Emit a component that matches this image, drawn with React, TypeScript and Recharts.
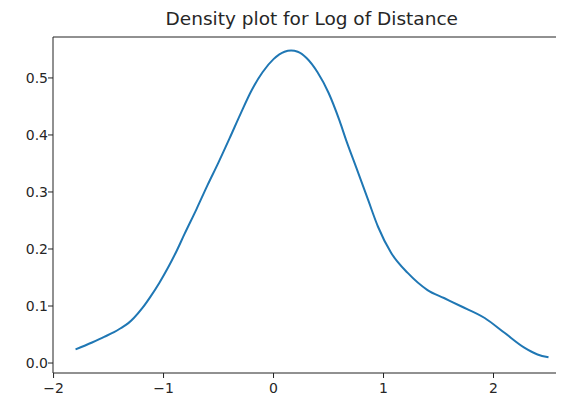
import { LineChart, Line, XAxis, YAxis, ReferenceLine } from 'recharts';

// KDE of log(distance)
const logDistance = [
  -1.8, -1.65, -1.54, -1.45, -1.39, -1.32, -1.27, -1.19, -1.12, -1.04, -0.96, -0.88, -0.81,
  -0.7, -0.6, -0.5, -0.4, -0.3, -0.2, -0.1, 0.0, 0.1, 0.16, 0.22, 0.3, 0.4, 0.5, 0.6, 0.66,
  0.75, 0.86, 0.95, 1.07, 1.22, 1.4, 1.55, 1.7, 1.92, 2.1, 2.28, 2.4, 2.5,
];
const density = [
  0.024, 0.036, 0.046, 0.054, 0.061, 0.07, 0.079, 0.097, 0.116, 0.14, 0.167, 0.197, 0.226,
  0.27, 0.312, 0.352, 0.394, 0.437, 0.478, 0.51, 0.533, 0.546, 0.548, 0.546, 0.535, 0.51,
  0.474, 0.425, 0.391, 0.344, 0.286, 0.239, 0.193, 0.158, 0.128, 0.114, 0.1, 0.079, 0.053,
  0.027, 0.015, 0.01,
];
const xTicks = [-2, -1, 0, 1, 2];
const yTicks = [0, 0.1, 0.2, 0.3, 0.4, 0.5];

const xDomain = [-2.005, 2.7];
const yDomain = [-0.0175, 0.5718];

const data = logDistance.map((x, i) => ({ x, y: density[i] }));

const font = '"DejaVu Sans", sans-serif';
const ink = '#262626';
const tickStyle = { fontSize: 14, fill: ink, fontFamily: font };

const fmtX = (v: number) => (v < 0 ? '\u2212' + Math.abs(v) : String(v));

export default function App() {
  return (
    <div style={{ position: 'relative', width: 556, height: 397, overflow: 'hidden', background: '#fff' }}>
      <div
        style={{
          position: 'absolute',
          left: 45,
          width: 517.5,
          top: 2,
          textAlign: 'center',
          fontFamily: font,
          fontSize: 18.5,
          lineHeight: '18.5px',
          color: ink,
        }}
      >
        Density plot for Log of Distance
      </div>
      <LineChart width={580} height={397} data={data} margin={{ top: 29, right: 17.5, bottom: 0, left: 0 }}>
        <XAxis
          dataKey="x"
          type="number"
          domain={xDomain}
          ticks={xTicks}
          tickFormatter={fmtX}
          allowDataOverflow
          height={32}
          tickSize={5}
          tickMargin={5}
          tick={tickStyle}
          stroke="#222"
          tickLine={{ stroke: '#222' }}
        />
        <YAxis
          type="number"
          domain={yDomain}
          ticks={yTicks}
          tickFormatter={(v: number) => v.toFixed(1)}
          allowDataOverflow
          width={45}
          tickSize={5}
          tickMargin={0}
          tick={tickStyle}
          stroke="#222"
          tickLine={{ stroke: '#222' }}
        />
        <ReferenceLine y={yDomain[1]} stroke="#222" />
        <ReferenceLine x={xDomain[1]} stroke="#222" />
        <Line
          dataKey="y"
          type="monotone"
          stroke="#1f77b4"
          strokeWidth={2}
          dot={false}
          isAnimationActive={false}
        />
      </LineChart>
    </div>
  );
}
